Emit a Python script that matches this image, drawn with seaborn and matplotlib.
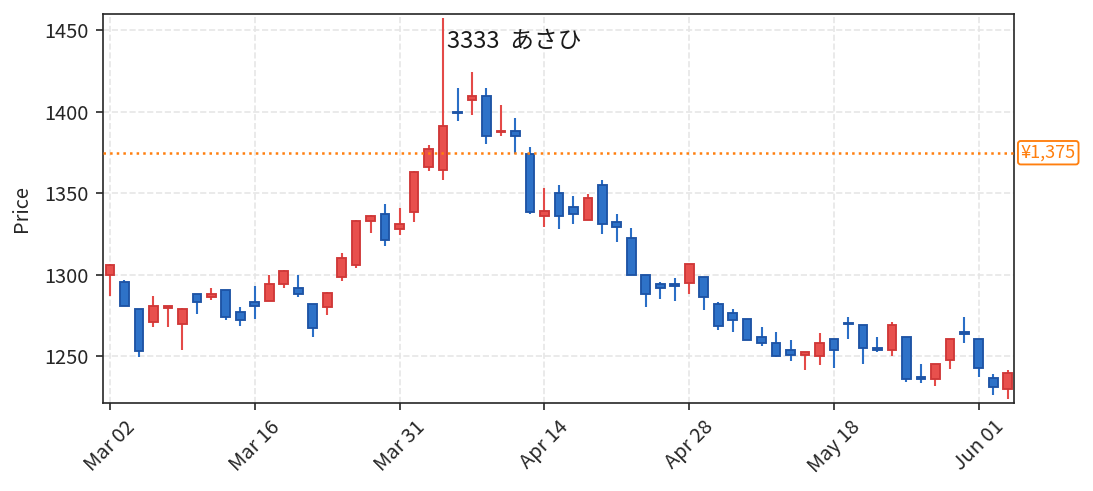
import numpy as np
import pandas as pd
import matplotlib
matplotlib.use("Agg")
import matplotlib.pyplot as plt
import matplotlib.transforms as mtransforms
import seaborn as sns

# ---------------- data ----------------
holidays = ["2020-03-20", "2020-04-29", "2020-05-04", "2020-05-05", "2020-05-06"]
dates = pd.bdate_range("2020-03-02", "2020-06-03", freq="C", holidays=holidays)

open_ = [1300, 1296, 1279, 1271, 1280, 1270, 1288.5, 1286.5, 1290.5, 1277.5,
         1283.5, 1284, 1294.5, 1292, 1282.5, 1280.5, 1299, 1306, 1333, 1337.5,
         1328, 1338.5, 1366, 1364.5, 1400, 1407.5, 1410, 1387.5, 1388.5, 1374,
         1336, 1350.5, 1341.5, 1333.5, 1355.5, 1332.5, 1322.5, 1300, 1294.5, 1294.5,
         1295, 1298.5, 1282.5, 1276.5, 1273, 1262, 1258.5, 1254, 1251, 1250,
         1260.5, 1270.5, 1269.5, 1255.5, 1254, 1262, 1237.5, 1236, 1248, 1265,
         1260.5, 1236.5, 1230]
high = [1307, 1297, 1279, 1287, 1281, 1280, 1288.5, 1292, 1290.5, 1280.5,
        1293, 1300, 1303, 1300, 1282.5, 1289.5, 1313.5, 1333.5, 1337, 1343.5,
        1341, 1364, 1379.5, 1457.5, 1415, 1424.5, 1415, 1404, 1396.5, 1378.5,
        1353.5, 1355, 1348.5, 1349.5, 1358, 1337.5, 1329, 1300, 1296, 1298,
        1306.5, 1298.5, 1283.5, 1279, 1273, 1268, 1265, 1260, 1252.5, 1264.5,
        1260.5, 1274, 1269.5, 1262, 1271, 1262, 1245.5, 1245.5, 1261, 1274,
        1260.5, 1239.5, 1242]
low = [1287, 1281, 1249.5, 1268, 1268, 1254, 1276, 1284.5, 1272.5, 1268.5,
       1273, 1284, 1292, 1286.5, 1262, 1275.5, 1296.5, 1304.5, 1325.5, 1317.5,
       1324.5, 1332.5, 1363.5, 1358.5, 1394.5, 1398, 1380.5, 1385, 1374, 1337.5,
       1329.5, 1328, 1331, 1333.5, 1325, 1320.5, 1300, 1280.5, 1285.5, 1284,
       1288.5, 1278.5, 1266.5, 1265, 1260, 1256.5, 1249.5, 1247.5, 1241.5, 1244.5,
       1243, 1260.5, 1245.5, 1252.5, 1250.5, 1234.5, 1233.5, 1232, 1242.5, 1258.5,
       1237.5, 1226.5, 1224]
close = [1306, 1281, 1253.5, 1281, 1281, 1279, 1283.5, 1288.5, 1274, 1272.5,
         1281, 1294.5, 1302.5, 1288.5, 1267.5, 1289, 1310.5, 1333, 1336, 1321.5,
         1331.5, 1363, 1377.5, 1391.5, 1399.5, 1410, 1385.5, 1388.5, 1385, 1338.5,
         1339.5, 1336, 1337.5, 1347, 1331.5, 1329.5, 1300, 1288.5, 1292, 1293.5,
         1306.5, 1286.5, 1268.5, 1272.5, 1260, 1258.5, 1250.5, 1251, 1252.5, 1258.5,
         1254, 1270, 1255, 1254, 1269.5, 1236, 1236, 1245.5, 1260.5, 1263.5,
         1243, 1231.5, 1240]

ref_price = 1375
title = "3333  あさひ"
ylabel = "Price"
tick_every = 10

# ---------------- style ----------------
sns.set_theme(style="ticks")
plt.rcParams["font.family"] = ["Noto Sans CJK JP", "DejaVu Sans"]

df = pd.DataFrame({"date": dates, "open": open_, "high": high,
                   "low": low, "close": close})
df["pos"] = np.arange(len(df))
df["up"] = df["close"] >= df["open"]
body_h = (df["close"] - df["open"]).abs().clip(lower=0.7)
body_b = df[["open", "close"]].min(axis=1)

up_fill, up_edge, up_wick = "#e8504d", "#d03838", "#e44a48"
dn_fill, dn_edge, dn_wick = "#2e72c8", "#1e54a5", "#2a6ec6"

fig = plt.figure(figsize=(1093 / 150, 491 / 150), dpi=150)
ax = fig.add_subplot(111)
fig.subplots_adjust(left=0.094, right=0.928, top=0.9715, bottom=0.18)

ax.grid(True, linestyle="--", color="#e6e6e6", linewidth=0.8, zorder=0)
ax.set_axisbelow(True)

for is_up, fill, edge, wick in [(True, up_fill, up_edge, up_wick),
                                (False, dn_fill, dn_edge, dn_wick)]:
    m = df["up"] == is_up
    ax.vlines(df.loc[m, "pos"], df.loc[m, "low"], df.loc[m, "high"],
              color=wick, linewidth=1.0, zorder=2)
    ax.bar(df.loc[m, "pos"], body_h[m], bottom=body_b[m], width=0.6,
           color=fill, edgecolor=edge, linewidth=0.9, zorder=2.5)

ax.axhline(ref_price, color="#ff7f0e", linestyle=":", linewidth=1.2, zorder=3)
trans = mtransforms.blended_transform_factory(ax.transAxes, ax.transData)
ax.text(1.007, ref_price, f"¥{ref_price:,}", transform=trans, ha="left",
        va="center", fontsize=8.7, color="#ff7f0e",
        bbox=dict(boxstyle="round,pad=0.15", fc="white", ec="#ff7f0e", lw=0.9),
        clip_on=False)

ax.text(0.378, 0.96, title, transform=ax.transAxes, ha="left", va="top",
        fontsize=11.4, color="#1a1a1a")

ticks = df["pos"][::tick_every]
ax.set_xticks(ticks)
ax.set_xticklabels(df["date"][::tick_every].dt.strftime("%b %d"), rotation=45)
ax.set_yticks([1250, 1300, 1350, 1400, 1450])
ax.tick_params(axis="both", labelsize=9.6, length=3.2, width=0.8)
ax.set_xlim(-0.5, 62.45)
ax.set_ylim(1221.7, 1460.1)
ax.set_ylabel(ylabel, fontsize=9.6, labelpad=6)
ax.set_xlabel("")
for s in ax.spines.values():
    s.set_linewidth(0.8)
    s.set_visible(True)

fig.savefig("out.png", dpi=150)
